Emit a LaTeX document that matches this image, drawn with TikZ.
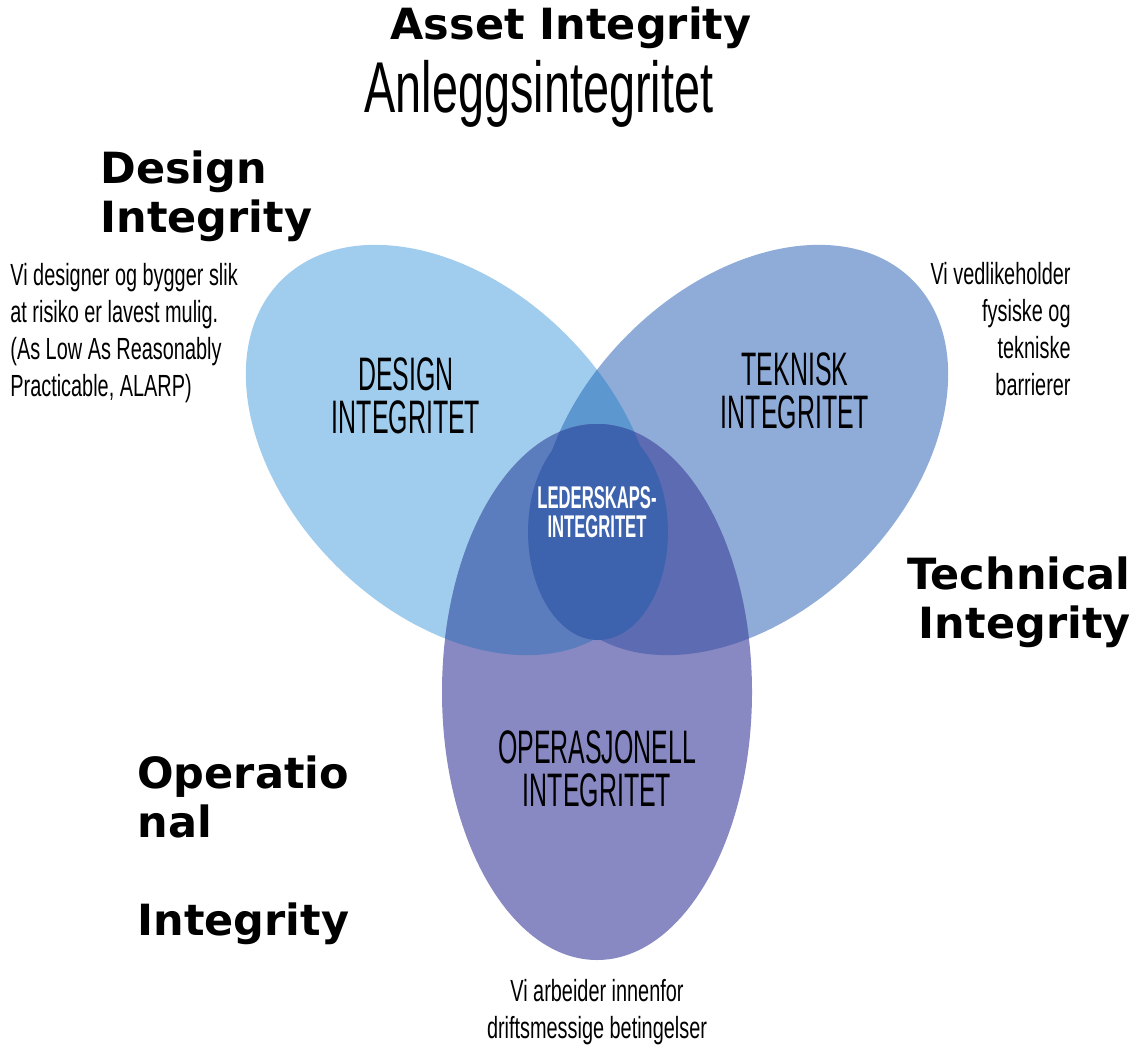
\documentclass[tikz,border=0pt]{standalone}
\usepackage{fontspec}
\setmainfont{DejaVu Sans}
\newfontfamily\narrowfont[FakeStretch=0.65]{Liberation Sans}
\newfontfamily\capsfont[FakeStretch=0.53]{Liberation Sans}
\usetikzlibrary{positioning}
\definecolor{designblue}{HTML}{A0CDED}
\definecolor{tekniskblue}{HTML}{8FACD8}
\definecolor{operpurple}{HTML}{8888C2}
\definecolor{dtblue}{HTML}{5C97CF}
\definecolor{doblue}{HTML}{5C7DBD}
\definecolor{toblue}{HTML}{5D6CB2}
\definecolor{lederblue}{HTML}{3E63AE}

\begin{document}
\begin{tikzpicture}[x=0.5pt, y=-0.5pt, every node/.style={inner sep=0pt},
    english/.style={font=\fontsize{21.5}{24.5}\selectfont\bfseries},
    title/.style={font=\narrowfont\fontsize{36}{40}\selectfont},
    note/.style={font=\narrowfont\fontsize{15.3}{18.5}\selectfont},
    circlelabel/.style={font=\capsfont\fontsize{23.5}{21.5}\selectfont, align=center},
    ledertext/.style={font=\capsfont\bfseries\fontsize{15.7}{14.5}\selectfont, align=center, text=white},
    designshape/.style={rotate around={-45:(dc)}},
    tekniskshape/.style={rotate around={45:(tc)}}]
\useasboundingbox (0,0) rectangle (1144,1053);
\coordinate (dc) at (451,450);
\coordinate (tc) at (743,450);
\coordinate (oc) at (597,692);
\coordinate (lc) at (598,532);

% the three circles
\fill[designblue, designshape] (dc) ellipse [x radius=120pt, y radius=81.5pt];
\fill[tekniskblue, tekniskshape] (tc) ellipse [x radius=120pt, y radius=81.5pt];
\fill[operpurple] (oc) ellipse [x radius=77.5pt, y radius=134pt];

% overlaps
\begin{scope}
  \clip[designshape] (dc) ellipse [x radius=120pt, y radius=81.5pt];
  \fill[dtblue, tekniskshape] (tc) ellipse [x radius=120pt, y radius=81.5pt];
  \fill[doblue] (oc) ellipse [x radius=77.5pt, y radius=134pt];
\end{scope}
\begin{scope}
  \clip[tekniskshape] (tc) ellipse [x radius=120pt, y radius=81.5pt];
  \fill[toblue] (oc) ellipse [x radius=77.5pt, y radius=134pt];
  \clip[designshape] (dc) ellipse [x radius=120pt, y radius=81.5pt];
  \fill[lederblue] (oc) ellipse [x radius=77.5pt, y radius=134pt];
\end{scope}
\fill[lederblue] (lc) ellipse [x radius=35pt, y radius=54pt];

% labels
\node[english, anchor=base] (asset) at (571,40) {Asset Integrity};
\node[title, anchor=base] (anlegg) at (539,113) {Anleggsintegritet};

\node[english, align=left, anchor=base west] (designeng) at (100,233) {Design\\Integrity};
\node[note, align=left, anchor=base west] (designnote) at (10,396)
  {Vi designer og bygger slik\\at risiko er lavest mulig.\\(As Low As Reasonably\\Practicable, ALARP)};
\node[circlelabel, anchor=base] (designlab) at (406,433) {DESIGN\\INTEGRITET};

\node[note, align=right, anchor=base east] (teknisknote) at (1071,395)
  {Vi vedlikeholder\\fysiske og\\tekniske\\barrierer};
\node[circlelabel, anchor=base] (teknisklab) at (795,428) {TEKNISK\\INTEGRITET};
\node[english, align=right, anchor=base east] (tekniskeng) at (1131,638) {Technical\\Integrity};

\node[ledertext, anchor=base] (lederlab) at (597,537) {LEDERSKAPS-\\INTEGRITET};

\node[circlelabel, anchor=base] (operlab) at (597,806) {OPERASJONELL\\INTEGRITET};
\node[english, align=left, anchor=base west] (opereng) at (137,935) {Operatio\\nal\\[24.5pt]Integrity};
\node[note, align=center, anchor=base] (opernote) at (597,1038)
  {Vi arbeider innenfor\\driftsmessige betingelser};
\end{tikzpicture}
\end{document}
